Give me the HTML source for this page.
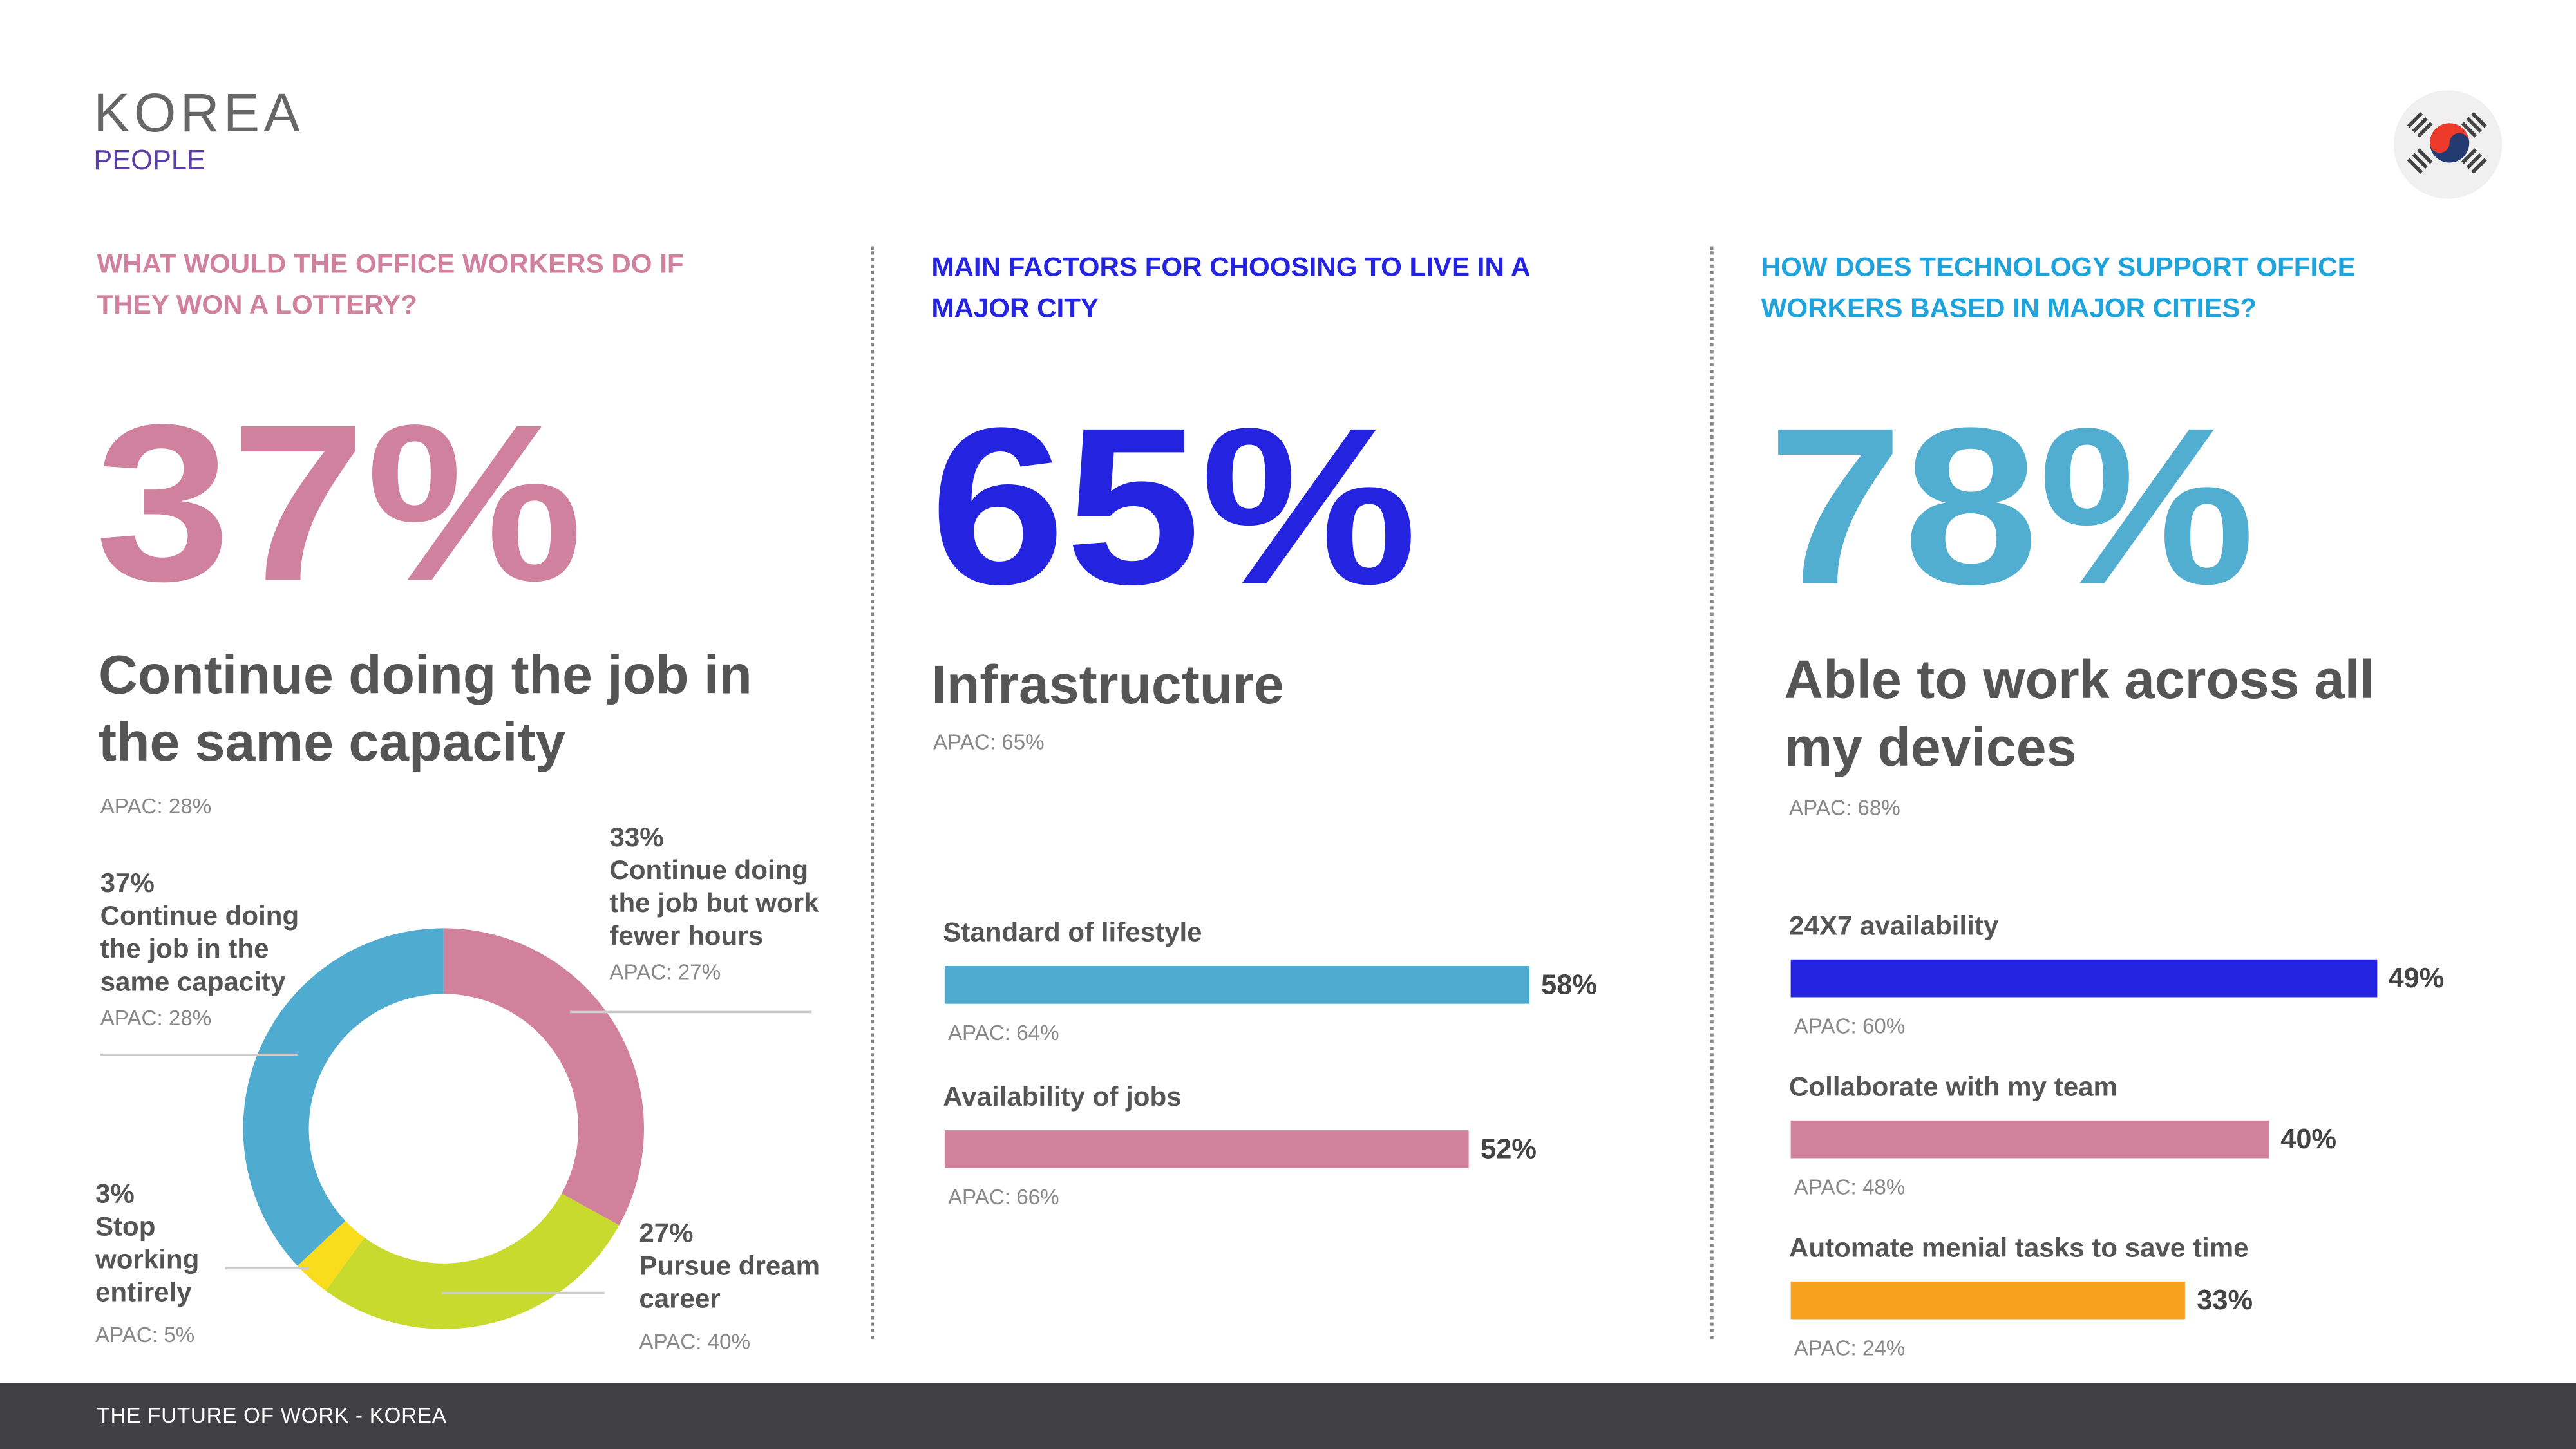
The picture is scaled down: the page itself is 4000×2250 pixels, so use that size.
<!DOCTYPE html>
<html><head><meta charset="utf-8"><style>
html,body{margin:0;padding:0;width:4000px;height:2250px;overflow:hidden;background:#fff}
#s{position:absolute;left:0;top:0;width:1568px;height:882px;transform:scale(2.55102);transform-origin:0 0;font-family:"Liberation Sans",sans-serif;color:#555}
.a{position:absolute;white-space:nowrap}
.q{font-weight:bold;font-size:16.5px;line-height:25px}
.big{font-weight:bold;font-size:136px;letter-spacing:0px;line-height:1;transform:scaleX(1.09);transform-origin:0 0}
.sub{font-weight:bold;font-size:33px;line-height:41px;color:#555;letter-spacing:0px}
.ap{font-size:13px;color:#888}
.lb{font-weight:bold;font-size:16.5px;color:#555;line-height:20px}
.pv{font-weight:bold;font-size:17px;color:#444}
.dl{position:absolute;border-left:2px dotted #888;width:0}
</style></head><body><div id="s">
<div class="a" style="left:57px;top:50px;font-size:33px;color:#666;letter-spacing:2.5px">KOREA</div>
<div class="a" style="left:57px;top:88px;font-size:17px;color:#5a3ea8">PEOPLE</div>
<svg class="a" style="left:1457px;top:55px" width="66" height="66" viewBox="0 0 66 66">
<circle cx="33" cy="33" r="33" fill="#f0f0f0"/>
<circle cx="34" cy="32" r="12" fill="#223a70"/>
<path d="M22,32 A12,12 0 0 1 46,32 A6,6 0 0 0 34,32 A6,6 0 0 1 22,32Z" fill="#ee3a2a"/>
<g stroke="#444" stroke-width="2.2"><path d="M9,22 l8,-8 M12,25 l8,-8 M15,28 l8,-8"/><path d="M45,14 l8,8 M48,11 l8,8 M51,8 l8,8" transform="translate(-3,6)"/><path d="M9,42 l8,8 M12,39 l8,8 M15,36 l8,8"/><path d="M51,36 l-8,8 M54,39 l-8,8 M57,42 l-8,8" transform="translate(-1,0)"/></g>
</svg>
<div class="dl" style="left:530px;top:150px;height:665px"></div>
<div class="dl" style="left:1041px;top:150px;height:665px"></div>

<div class="a q" style="left:59px;top:149px;color:#d0819d">WHAT WOULD THE OFFICE WORKERS DO IF<br>THEY WON A LOTTERY?</div>
<div class="a big" style="left:58px;top:238px;color:#d0819d">37%</div>
<div class="a sub" style="left:60px;top:390px">Continue doing the job in<br>the same capacity</div>
<div class="a ap" style="left:61px;top:483px">APAC: 28%</div>

<svg class="a" style="left:0;top:0" width="530" height="840" id="donut"></svg>
<div class="a lb" style="left:61px;top:528px">37%<br>Continue doing<br>the job in the<br>same capacity<div class="ap" style="font-weight:normal;margin-top:2px">APAC: 28%</div></div>
<div class="a lb" style="left:371px;top:500px">33%<br>Continue doing<br>the job but work<br>fewer hours<div class="ap" style="font-weight:normal;margin-top:2px">APAC: 27%</div></div>
<div class="a lb" style="left:58px;top:717px">3%<br>Stop<br>working<br>entirely<div class="ap" style="font-weight:normal;margin-top:6px">APAC: 5%</div></div>
<div class="a lb" style="left:389px;top:741px">27%<br>Pursue dream<br>career<div class="ap" style="font-weight:normal;margin-top:6px">APAC: 40%</div></div>

<div class="a q" style="left:567px;top:151px;color:#2323e0">MAIN FACTORS FOR CHOOSING TO LIVE IN A<br>MAJOR CITY</div>
<div class="a big" style="left:566px;top:240px;color:#2323e0">65%</div>
<div class="a sub" style="left:567px;top:396px">Infrastructure</div>
<div class="a ap" style="left:568px;top:444px">APAC: 65%</div>
<div id="bars1"></div>

<div class="a q" style="left:1072px;top:151px;color:#1fa3dc">HOW DOES TECHNOLOGY SUPPORT OFFICE<br>WORKERS BASED IN MAJOR CITIES?</div>
<div class="a big" style="left:1076px;top:240px;color:#52aed1">78%</div>
<div class="a sub" style="left:1086px;top:393px">Able to work across all<br>my devices</div>
<div class="a ap" style="left:1089px;top:484px">APAC: 68%</div>
<div id="bars2"></div>

<div class="a" style="left:0;top:842px;width:1568px;height:40px;background:#414143"></div>
<div class="a" style="left:59px;top:854px;font-size:13px;color:#fff;letter-spacing:0.3px">THE FUTURE OF WORK - KOREA</div>
</div>
<script>
const donutLabels=["Continue doing the job but work fewer hours","Pursue dream career","Stop working entirely","Continue doing the job in the same capacity"];
const donutValues=[33,27,3,37];
const donutColors=["#d2819d","#c9da2e","#f9dc1c","#50abd0"];
const cityCats=["Standard of lifestyle","Availability of jobs"];
const cityVals=[58,52];
const cityApac=["APAC: 64%","APAC: 66%"];
const techCats=["24X7 availability","Collaborate with my team","Automate menial tasks to save time"];
const techVals=[49,40,33];
const techApac=["APAC: 60%","APAC: 48%","APAC: 24%"];

const NS="http://www.w3.org/2000/svg";
const svg=document.getElementById('donut');
const cx=270,cy=687,R=122,r=82;
const total=donutValues.reduce((a,b)=>a+b,0);
let acc=0;
function pt(rad,ang){return [cx+rad*Math.sin(ang),cy-rad*Math.cos(ang)];}
donutValues.forEach((v,i)=>{
  const a0=acc/total*2*Math.PI; acc+=v; const a1=acc/total*2*Math.PI;
  const lg=(a1-a0)>Math.PI?1:0;
  const p0=pt(R,a0),p1=pt(R,a1),q1=pt(r,a1),q0=pt(r,a0);
  const p=document.createElementNS(NS,'path');
  p.setAttribute('d',`M${p0} A${R},${R} 0 ${lg} 1 ${p1} L${q1} A${r},${r} 0 ${lg} 0 ${q0}Z`);
  p.setAttribute('fill',donutColors[i]);
  
  
  svg.appendChild(p);
});
[[61,642,181,642],[347,616,494,616],[137,772,188,772],[269,787,368,787]].forEach(l=>{
  const e=document.createElementNS(NS,'line');
  e.setAttribute('x1',l[0]);e.setAttribute('y1',l[1]);e.setAttribute('x2',l[2]);e.setAttribute('y2',l[3]);
  e.setAttribute('stroke','#ccc');e.setAttribute('stroke-width','1.5');
  
  
  svg.appendChild(e);
});

function bars(host,cats,vals,apac,colors,x0,y0,step,scale){
  const h=document.getElementById(host);
  cats.forEach((c,i)=>{
    const y=y0+i*step;
    const t=document.createElement('div');t.className='a lb';t.style.left=x0+'px';t.style.top=(y-30)+'px';t.textContent=c;
    
    
    h.appendChild(t);
    const b=document.createElement('div');b.className='a';
    b.style.cssText=`left:${x0+1}px;top:${y}px;width:${vals[i]*scale}px;height:23px;background:${colors[i]}`;
    
    
    h.appendChild(b);
    const v=document.createElement('div');v.className='a pv';v.style.left=(x0+vals[i]*scale+8)+'px';v.style.top=(y+2)+'px';v.textContent=vals[i]+'%';
    
    
    h.appendChild(v);
    const a=document.createElement('div');a.className='a ap';a.style.left=(x0+3)+'px';a.style.top=(y+33)+'px';a.textContent=apac[i];
    
    
    h.appendChild(a);
  });
}
bars('bars1',cityCats,cityVals,cityApac,["#50abd0","#d2819d"],574,588,100,6.14);
bars('bars2',techCats,techVals,techApac,["#2323e0","#d2819d","#f8a11f"],1089,584,98,7.28);
</script>
</body></html>
